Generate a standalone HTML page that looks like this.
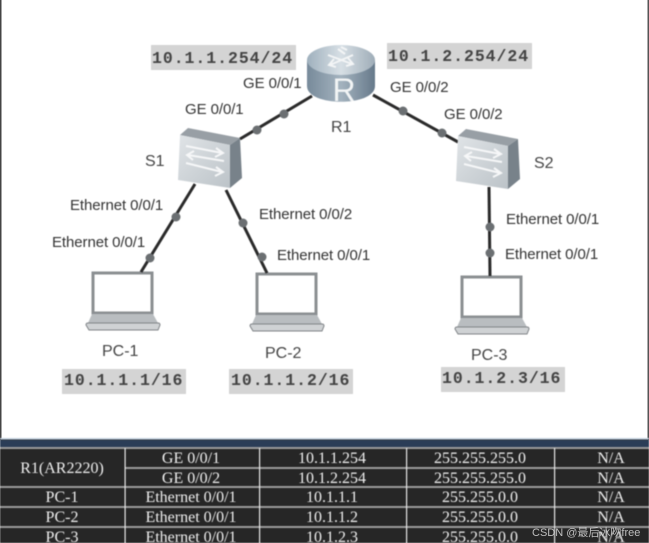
<!DOCTYPE html>
<html><head><meta charset="utf-8"><style>
html,body{margin:0;padding:0;background:#fff}
svg{display:block}
.l{font:15px "Liberation Sans",sans-serif;fill:#333;letter-spacing:-.08px}
.n{font:16px "Liberation Sans",sans-serif;fill:#444}
.ip{font:bold 16.5px "Liberation Mono",monospace;fill:#444;letter-spacing:.95px}
.t{font:16px "Liberation Serif",serif;fill:#eee;text-anchor:middle}
.soft{filter:blur(.65px)}
</style></head><body>
<svg width="649" height="543" viewBox="0 0 649 543" xmlns="http://www.w3.org/2000/svg">
<defs>
<linearGradient id="rt" x1="0" x2="1"><stop offset="0" stop-color="#9fb0bd"/><stop offset=".5" stop-color="#d7dfe5"/><stop offset="1" stop-color="#9fadb8"/></linearGradient>
<linearGradient id="rb" x1="0" x2="1"><stop offset="0" stop-color="#778a9a"/><stop offset=".5" stop-color="#a4b3bf"/><stop offset="1" stop-color="#66798a"/></linearGradient>
<linearGradient id="sf" x1="0" y1="0" x2="1" y2="1"><stop offset="0" stop-color="#e0e4e7"/><stop offset="1" stop-color="#bcc3c8"/></linearGradient>
<g id="sw">
<path d="M0 0 L8 -7 L60 3 L50 10 Z" fill="#989fa5"/>
<path d="M0 0 L50 10 L50 53 L-2 45 Z" fill="url(#sf)"/>
<path d="M50 10 L60 3 L62 43 L50 53 Z" fill="#78828a"/>
<g fill="none" stroke="#f6f7f8" stroke-width="2">
<path d="M6 11 L42 18 M36 13 L43 18 L35 22"/>
<path d="M44 26 L8 20 M14 16 L7 20 L13 25"/>
<path d="M6 28 L42 37 M36 32 L43 37 L35 41"/>
</g>
</g>
<g id="pc">
<path d="M7 1 H66 V41 H7 Z" fill="#fff" stroke="#8b8f92" stroke-width="3"/>
<path d="M6 42 H67 L72 51 H2 Z" fill="#b9bdc0"/>
<path d="M0 53 Q0 51 2 51 H72 Q74 51 74 53 L72 58 H3 Z" fill="#cfd2d4" stroke="#808488" stroke-width="1"/>
</g>
</defs>

<rect width="649" height="543" fill="#fff"/>
<rect x="0" y="0" width="1.5" height="440" fill="#444"/>
<rect x="647.5" y="0" width="1.5" height="440" fill="#555"/>

<g class="soft">
<use href="#pc" x="86" y="272"/>
<use href="#pc" x="250" y="273"/>
<use href="#pc" x="455" y="276"/>
<g stroke="#2a2a2a" stroke-width="3" fill="none">
<path d="M312 96 L240 139"/>
<path d="M373 95 L458 142"/>
<path d="M195 184 L141 272"/>
<path d="M226 190 L267 273"/>
<path d="M489 187 L490 276"/>
</g>
<g fill="#6b6f72">
<circle cx="284" cy="114" r="4.5"/><circle cx="257" cy="130" r="4.5"/>
<circle cx="403" cy="111" r="4.5"/><circle cx="442" cy="133" r="4.5"/>
<circle cx="176" cy="217" r="4.5"/><circle cx="150" cy="258" r="4.5"/>
<circle cx="243" cy="223" r="4.5"/><circle cx="262" cy="257" r="4.5"/>
<circle cx="490" cy="227" r="4.5"/><circle cx="490" cy="253" r="4.5"/>
</g>

<!-- router -->
<path d="M307 60 V86 C307 107 375 107 375 86 V60 Z" fill="url(#rb)"/>
<ellipse cx="341" cy="60" rx="34" ry="15" fill="url(#rt)"/>
<g fill="none" stroke="#f3f5f6" stroke-width="2">
<path d="M328 55 L352 64 M348 58 L353 64 L346 66"/>
<path d="M353 55 L330 65 M334 59 L329 65 L336 67"/>
<path d="M338 49 L345 54 M341 47 L347 50"/>
</g>
<text x="344" y="101" font-family="Liberation Sans,sans-serif" font-size="32" fill="#f2f4f5" text-anchor="middle">R</text>

<use href="#sw" x="180" y="135"/>
<use href="#sw" x="458" y="136"/>

<rect x="151" y="45" width="145" height="25" fill="#d4d4d4"/>
<rect x="387" y="43" width="145" height="26" fill="#d4d4d4"/>
<rect x="62" y="369" width="124" height="25" fill="#d4d4d4"/>
<rect x="229" y="369" width="124" height="25" fill="#d4d4d4"/>
<rect x="441" y="367" width="124" height="25" fill="#d4d4d4"/>
<text class="ip" x="152" y="63">10.1.1.254/24</text>
<text class="ip" x="388" y="61">10.1.2.254/24</text>
<text class="ip" x="64" y="385">10.1.1.1/16</text>
<text class="ip" x="231" y="385">10.1.1.2/16</text>
<text class="ip" x="442" y="383">10.1.2.3/16</text>

<text class="l" x="243" y="88">GE 0/0/1</text>
<text class="l" x="185" y="114">GE 0/0/1</text>
<text class="l" x="390" y="92">GE 0/0/2</text>
<text class="l" x="444" y="119">GE 0/0/2</text>
<text class="l" x="70" y="210">Ethernet 0/0/1</text>
<text class="l" x="52" y="247">Ethernet 0/0/1</text>
<text class="l" x="259" y="219">Ethernet 0/0/2</text>
<text class="l" x="277" y="260">Ethernet 0/0/1</text>
<text class="l" x="506" y="224">Ethernet 0/0/1</text>
<text class="l" x="505" y="259">Ethernet 0/0/1</text>
<text class="n" x="331" y="132">R1</text>
<text class="n" x="145" y="166">S1</text>
<text class="n" x="534" y="168">S2</text>
<text class="n" x="102" y="356">PC-1</text>
<text class="n" x="265" y="358">PC-2</text>
<text class="n" x="471" y="360">PC-3</text>
</g>

<!-- table -->
<g class="soft">
<rect x="0" y="438" width="649" height="105" fill="#262626"/>
<rect x="0" y="438" width="649" height="1.5" fill="#c5d2e0"/>
<rect x="0" y="440" width="649" height="7" fill="#2b3d57"/>
<g fill="#9a9a9a">
<rect x="0" y="447" width="649" height="2"/>
<rect x="125" y="467" width="524" height="2"/>
<rect x="0" y="486" width="649" height="2"/>
<rect x="0" y="506" width="649" height="2"/>
<rect x="0" y="526" width="649" height="2"/>
</g>
<g fill="#e8e8e8">
<rect x="124.5" y="448" width="1.2" height="95"/>
<rect x="259" y="448" width="1.2" height="95"/>
<rect x="406" y="448" width="1.2" height="95"/>
<rect x="554" y="448" width="1.2" height="95"/>
</g>
<text class="t" x="62" y="473">R1(AR2220)</text>
<text class="t" x="191" y="463">GE 0/0/1</text>
<text class="t" x="191" y="483">GE 0/0/2</text>
<text class="t" x="191" y="502">Ethernet 0/0/1</text>
<text class="t" x="191" y="522">Ethernet 0/0/1</text>
<text class="t" x="191" y="542">Ethernet 0/0/1</text>
<text class="t" x="332" y="463">10.1.1.254</text>
<text class="t" x="332" y="483">10.1.2.254</text>
<text class="t" x="332" y="502">10.1.1.1</text>
<text class="t" x="332" y="522">10.1.1.2</text>
<text class="t" x="332" y="542">10.1.2.3</text>
<text class="t" x="480" y="463">255.255.255.0</text>
<text class="t" x="480" y="483">255.255.255.0</text>
<text class="t" x="480" y="502">255.255.0.0</text>
<text class="t" x="480" y="522">255.255.0.0</text>
<text class="t" x="480" y="542">255.255.0.0</text>
<text class="t" x="611" y="463">N/A</text>
<text class="t" x="611" y="483">N/A</text>
<text class="t" x="611" y="502">N/A</text>
<text class="t" x="611" y="522">N/A</text>
<text class="t" x="611" y="542">N/A</text>
<text class="t" x="62" y="502">PC-1</text>
<text class="t" x="62" y="522">PC-2</text>
<text class="t" x="62" y="542">PC-3</text>
</g>
<text x="532" y="536" font-family="Liberation Sans,'Noto Sans CJK SC',sans-serif" font-size="11" fill="#d8d8d8" fill-opacity=".85">CSDN @最后冰吻free</text>
</svg>
</body></html>
